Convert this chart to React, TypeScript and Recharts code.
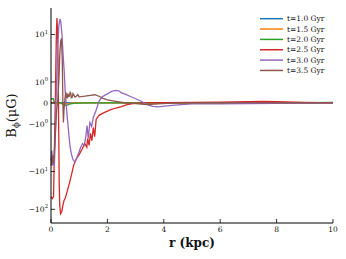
import React from 'react';
import { LineChart, Line, XAxis, YAxis, Legend } from 'recharts';

// symlog axis: linthresh = 2, linscale = 1, base 10 (matplotlib style)
const LIN_THRESH = 2;
const LIN_SCALE = 1 / (1 - 1 / 10);
const symlog = (v: number) =>
  Math.abs(v) <= LIN_THRESH
    ? v * LIN_SCALE
    : Math.sign(v) * LIN_THRESH * (LIN_SCALE + Math.log10(Math.abs(v) / LIN_THRESH));

const X_TICKS = [0, 2, 4, 6, 8, 10];
const Y_TICK_VALUES = [-100, -10, -1, 0, 1, 10];
const Y_TICK_LABELS = [['−10', '2'], ['−10', '1'], ['−10', '0'], ['0', ''], ['10', '0'], ['10', '1']];
const Y_LIMITS = [-230, 50];

// t = 1.0 Gyr
const R10 = [0, 0.5, 1, 2, 4, 6, 8, 10];
const B10 = [0.0, 0.01, 0.0, 0.0, 0.0, 0.0, 0.0, 0.0];

// t = 1.5 Gyr
const R15 = [0, 0.2, 0.35, 0.5, 0.65, 0.8, 1.5, 3, 6, 10];
const B15 = [0.02, 0.0, -0.03, -0.05, -0.02, 0.0, 0.0, 0.0, 0.0, 0.0];

// t = 2.0 Gyr
const R20 = [0, 0.08, 0.12, 0.2, 0.35, 0.45, 0.55, 0.65, 0.8, 1.0, 1.3, 2, 3, 5, 7, 9, 10];
const B20 = [0.2, 0.2, 0.03, 0.02, 0.0, -0.08, -0.12, -0.06, -0.02, -0.01, 0.0, 0.0, 0.0, 0.01, 0.02, 0.02, 0.03];

// t = 2.5 Gyr
const R25 = [0, 0.05, 0.09, 0.12, 0.15, 0.17, 0.19, 0.21, 0.23, 0.25, 0.27, 0.29, 0.31, 0.34, 0.38, 0.42, 0.46,
  0.5, 0.55, 0.6, 0.65, 0.72, 0.8, 0.9, 1.0, 1.1, 1.2, 1.27, 1.3, 1.35, 1.4, 1.45, 1.5, 1.55, 1.6, 1.7, 1.9,
  2.1, 2.3, 2.5, 2.7, 2.95, 3.3, 4, 5, 6, 7, 7.5, 8, 9, 10];
const B25 = [-46, -52, -46, -2.8, -0.11, 1.56, 9.6, 27, 13, 2.1, -0.83, -17.5, -80, -131, -116, -80, -59,
  -52, -39, -28.5, -21, -12.9, -7.0, -4.6, -3.6, -2.6, -1.93, -2.3, -1.69, -2.05, -1.45, -1.8, -1.17, -1.6, -0.78, -0.59, -0.45,
  -0.33, -0.24, -0.17, -0.08, -0.02, 0.0, 0.02, 0.03, 0.04, 0.06, 0.07, 0.06, 0.03, 0.0];

// t = 3.0 Gyr
const R30 = [0, 0.03, 0.06, 0.09, 0.12, 0.15, 0.18, 0.21, 0.24, 0.28, 0.32, 0.35, 0.39, 0.43, 0.47, 0.5, 0.53,
  0.57, 0.62, 0.67, 0.72, 0.78, 0.84, 0.9, 0.97, 1.05, 1.12, 1.18, 1.24, 1.28, 1.32, 1.38, 1.44, 1.5, 1.6, 1.7,
  1.8, 1.9, 2.0, 2.15, 2.3, 2.4, 2.5, 2.65, 2.8, 3.0, 3.2, 3.4, 3.6, 3.8, 4.1, 4.5, 5, 6, 7, 8, 9, 10];
const B30 = [-5.2, -2.8, -7.0, -3.8, -7.0, -1.8, 0.12, 1.56, 5.2, 17.7, 25.6, 21.3, 9.6, 2.84, 1.46, 0.6, 0.12,
  -0.59, -1.31, -2.06, -3.4, -4.85, -5.65, -4.6, -3.4, -2.33, -1.93, -2.05, -1.55, -1.07, -1.69, -0.93, -1.12, -0.69, -0.35, 0.08,
  0.27, 0.36, 0.43, 0.55, 0.6, 0.58, 0.48, 0.41, 0.32, 0.2, 0.08, -0.07, -0.16, -0.19, -0.14, -0.09, -0.04, -0.04, -0.03, -0.02, -0.01, -0.01];

// t = 3.5 Gyr
const R35 = [0, 0.03, 0.06, 0.09, 0.12, 0.16, 0.2, 0.24, 0.28, 0.31, 0.34, 0.37, 0.4, 0.42, 0.44, 0.46, 0.5,
  0.53, 0.55, 0.57, 0.6, 0.62, 0.65, 0.68, 0.7, 0.72, 0.75, 0.78, 0.8, 0.85, 0.9, 0.95, 1.0, 1.2, 1.4, 1.55,
  1.7, 1.85, 2.0, 2.3, 2.6, 3.0, 3.4, 3.8, 4.3, 5, 6, 7, 8, 9, 10];
const B35 = [-7.0, -5.2, -3.8, -6.3, -2.8, -1.31, -0.35, 0.12, 1.08, 2.84, 6.3, 7.9, 2.1, 0.12, -0.93, -0.35, 0.27,
  0.51, 0.3, 0.22, 0.46, 0.3, 0.32, 0.5, 0.46, 0.25, 0.27, 0.45, 0.41, 0.28, 0.32, 0.4, 0.29, 0.32, 0.36, 0.39,
  0.32, 0.22, 0.15, 0.08, 0.01, -0.03, -0.08, -0.04, -0.01, 0.0, 0.01, 0.02, 0.01, 0.0, 0.0];

const SERIES = [
  { name: 't=1.0 Gyr', color: '#1f77b4', r: R10, b: B10 },
  { name: 't=1.5 Gyr', color: '#ff7f0e', r: R15, b: B15 },
  { name: 't=2.0 Gyr', color: '#2ca02c', r: R20, b: B20 },
  { name: 't=2.5 Gyr', color: '#d62728', r: R25, b: B25 },
  { name: 't=3.0 Gyr', color: '#9467bd', r: R30, b: B30 },
  { name: 't=3.5 Gyr', color: '#8c564b', r: R35, b: B35 },
];

const FONT = '"DejaVu Serif", serif';
const TICK_LEN = 4;
const yTicks = Y_TICK_VALUES.map(symlog);

const BottomTick = ({ x, y, payload }: any) => (
  <g>
    <line x1={x} x2={x} y1={y} y2={y - TICK_LEN} stroke="#000" strokeWidth={0.8} />
    <text x={x} y={y + 9} textAnchor="middle" fontSize={7.5} fontFamily={FONT} fill="#111">
      {payload.value}
    </text>
  </g>
);

const TopTick = ({ x, y }: any) => (
  <line x1={x} x2={x} y1={y} y2={y + TICK_LEN} stroke="#000" strokeWidth={0.8} />
);

const LeftTick = ({ x, y, payload }: any) => {
  let idx = 0;
  yTicks.forEach((t, i) => {
    if (Math.abs(t - payload.value) < Math.abs(yTicks[idx] - payload.value)) idx = i;
  });
  const [base, exp] = Y_TICK_LABELS[idx];
  return (
    <g>
      <line x1={x} x2={x + TICK_LEN} y1={y} y2={y} stroke="#000" strokeWidth={0.8} />
      <text x={x - 3} y={y + 2.7} textAnchor="end" fontSize={7.5} fontFamily={FONT} fill="#111">
        {base}
        {exp && <tspan dy={-3.6} fontSize={5.3}>{exp}</tspan>}
      </text>
    </g>
  );
};

const RightTick = ({ x, y }: any) => (
  <line x1={x} x2={x - TICK_LEN} y1={y} y2={y} stroke="#000" strokeWidth={0.8} />
);

const XLabel = ({ viewBox }: any) => (
  <text x={viewBox.x + viewBox.width / 2} y={viewBox.y + 24} textAnchor="middle"
    fontSize={12} fontWeight="bold" fontFamily={FONT} fill="#111">
    r (kpc)
  </text>
);

const YLabel = ({ viewBox }: any) => {
  const cx = viewBox.x + 16;
  const cy = viewBox.y + viewBox.height / 2;
  return (
    <text x={cx} y={cy} transform={`rotate(-90, ${cx}, ${cy})`} textAnchor="middle"
      fontSize={13} fontFamily={FONT} fill="#111">
      B<tspan dy={3} fontSize={8.5}>ϕ</tspan><tspan dy={-3}>(μG)</tspan>
    </text>
  );
};

const LegendBox = () => (
  <svg width={84} height={68}>
    {SERIES.map((s, i) => {
      const y = 6.7 + i * 10.35;
      return (
        <g key={s.name}>
          <line x1={2} x2={25} y1={y} y2={y} stroke={s.color} strokeWidth={1.5} />
          <text x={29} y={y + 2.6} fontSize={7.5} fontFamily={FONT} fill="#111">{s.name}</text>
        </g>
      );
    })}
  </svg>
);

const App: React.FC = () => {
  const tables = SERIES.map(s => s.r.map((r, i) => ({ r, b: symlog(s.b[i]) })));
  const axisLine = { stroke: '#000', strokeWidth: 1 };

  return (
    <div>
      <style>{'body{margin:0}'}</style>
      <LineChart width={346} height={259} margin={{ top: 8, right: 13, bottom: 0, left: 0 }}>
        <XAxis xAxisId="bottom" type="number" dataKey="r" domain={[0, 10]} ticks={X_TICKS} interval={0}
          height={36} tickSize={0} tickMargin={0} tickLine={false} axisLine={axisLine}
          tick={(p: any) => <BottomTick {...p} />} label={{ content: XLabel }} />
        <XAxis xAxisId="top" orientation="top" type="number" dataKey="r" domain={[0, 10]} ticks={X_TICKS} interval={0}
          height={0} tickSize={0} tickMargin={0} tickLine={false} axisLine={axisLine}
          tick={(p: any) => <TopTick {...p} />} />
        <YAxis yAxisId="left" type="number" domain={[symlog(Y_LIMITS[0]), symlog(Y_LIMITS[1])]} ticks={yTicks}
          interval={0} width={51} tickSize={0} tickMargin={0} tickLine={false} axisLine={axisLine}
          tick={(p: any) => <LeftTick {...p} />} label={{ content: YLabel }} />
        <YAxis yAxisId="right" orientation="right" type="number" domain={[symlog(Y_LIMITS[0]), symlog(Y_LIMITS[1])]}
          ticks={yTicks} interval={0} width={0} tickSize={0} tickMargin={0} tickLine={false} axisLine={axisLine}
          tick={(p: any) => <RightTick {...p} />} />
        {SERIES.map((s, i) => (
          <Line key={s.name} xAxisId="bottom" yAxisId="left" data={tables[i]} dataKey="b" name={s.name}
            type="linear" stroke={s.color} strokeWidth={1.3} dot={false} isAnimationActive={false} />
        ))}
        <Legend layout="vertical" align="center" verticalAlign="middle" content={LegendBox}
          wrapperStyle={{ left: 258, top: 12, width: 84, height: 68 }} />
      </LineChart>
    </div>
  );
};

export default App;
